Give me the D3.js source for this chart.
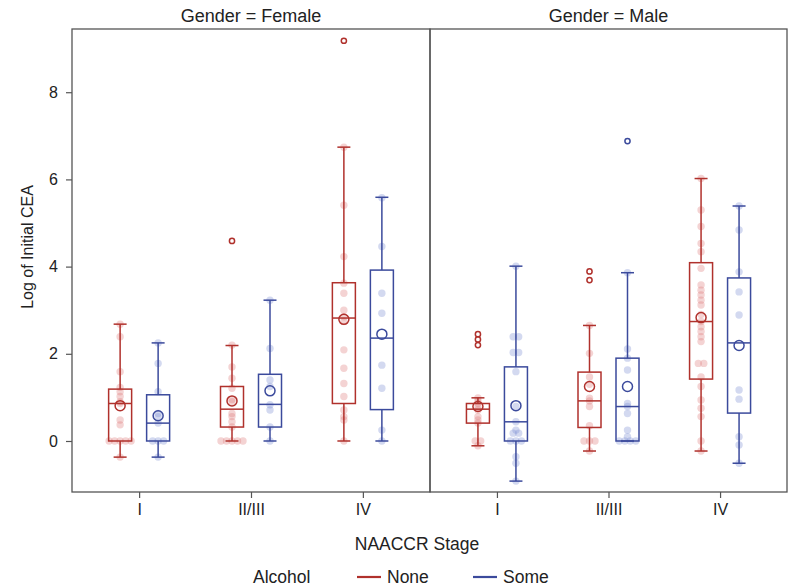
<!DOCTYPE html>
<html>
<head>
<meta charset="utf-8">
<script src="https://cdn.jsdelivr.net/npm/d3@7"></script>
<style>
  body { margin: 0; background: #fff; }
  text { font-family: "Liberation Sans", Arial, sans-serif; fill: #222; }
</style>
</head>
<body>
<svg id="chart" width="788" height="587"></svg>
<script>
// panels / categories
const panels = ['Female', 'Male'];
const stages = ['I', 'II/III', 'IV'];
const groups = ['None', 'Some'];
const yTicks = [0, 2, 4, 6, 8];

// box stats, order: Female I, II/III, IV, Male I, II/III, IV
const noneLow = [-0.37, 0, 0, -0.11, -0.23, -0.23];
const noneQ1 = [0, 0.32, 0.86, 0.41, 0.31, 1.42];
const noneMed = [0.86, 0.73, 2.82, 0.73, 0.92, 2.74];
const noneQ3 = [1.19, 1.25, 3.63, 0.86, 1.58, 4.09];
const noneHigh = [2.68, 2.19, 6.74, 0.99, 2.65, 6.02];
const noneMean = [0.81, 0.92, 2.79, 0.79, 1.25, 2.83];
const noneOutliers = [[], [4.59], [9.18], [2.45, 2.33, 2.2], [3.89, 3.69], []];

const someLow = [-0.37, 0, 0, -0.92, 0, -0.51];
const someQ1 = [0, 0.32, 0.72, 0, 0, 0.64];
const someMed = [0.41, 0.84, 2.36, 0.44, 0.79, 2.25];
const someQ3 = [1.06, 1.53, 3.92, 1.7, 1.9, 3.74];
const someHigh = [2.25, 3.23, 5.59, 4.01, 3.86, 5.39];
const someMean = [0.58, 1.15, 2.45, 0.81, 1.25, 2.19];
const someOutliers = [[], [], [], [], [6.88], []];

// individual observations (faded dots)
const nonePoints = [
  [2.68, 2.39, 1.59, 1.23, 1.13, 1.02, 0.9, 0.86, 0.48, 0.37, 0, 0, 0, 0, 0, -0.37],
  [2.2, 1.7, 1.44, 1.21, 0.95, 0.9, 0.63, 0.56, 0.44, 0.32, 0, 0, 0, 0, 0],
  [6.74, 5.41, 4.23, 3.62, 3.39, 3.0, 2.85, 2.74, 2.09, 1.67, 1.32, 1.02, 0.71, 0.56, 0.48, 0],
  [0.99, 0.92, 0.86, 0.78, 0.71, 0.56, 0.48, 0.41, 0, 0, -0.11],
  [2.65, 2.01, 1.47, 1.3, 0.98, 0.92, 0.79, 0.35, 0, 0, 0, -0.23],
  [6.02, 5.3, 4.92, 4.53, 4.34, 3.96, 3.58, 3.46, 3.35, 3.23, 3.12, 2.9, 2.74, 2.62, 2.51, 2.39, 2.28, 1.78, 1.78, 1.47, 1.25, 0.94, 0.75, 0.56, 0, -0.23]
];
const somePoints = [
  [2.25, 1.78, 1.13, 0.63, 0.56, 0.41, 0, 0, 0, -0.37],
  [3.23, 2.12, 1.4, 1.25, 0.83, 0.71, 0.32, 0],
  [5.58, 4.46, 3.39, 2.93, 1.74, 1.21, 0.25, 0],
  [4.01, 2.39, 2.39, 2.03, 2.03, 1.59, 0.79, 0.44, 0.25, 0.18, 0.18, 0, 0, 0, -0.36, -0.51, -0.92],
  [3.86, 2.11, 1.9, 1.63, 0.86, 0.79, 0.63, 0.25, 0.1, 0, 0, 0, 0],
  [5.39, 4.84, 3.88, 3.42, 2.89, 1.17, 0.96, 0.1, -0.09, -0.51]
];

const colors = { None: '#b0312c', Some: '#3b4a9c' };
const dotColors = { None: 'rgba(222,120,120,0.33)', Some: 'rgba(120,140,210,0.33)' };

const svg = d3.select('#chart');
const plotTop = 29, plotBottom = 492;
const panelX = [[72, 430], [430, 787]];
const frameColor = '#555';

const y = d3.scaleLinear().domain([-1.17, 9.45]).range([plotBottom, plotTop]);
const gx = d3.scalePoint().domain(groups).range([-19, 19]);

const stats = {
  None: { low: noneLow, q1: noneQ1, med: noneMed, q3: noneQ3, high: noneHigh, mean: noneMean, out: noneOutliers, pts: nonePoints },
  Some: { low: someLow, q1: someQ1, med: someMed, q3: someQ3, high: someHigh, mean: someMean, out: someOutliers, pts: somePoints }
};

const boxW = 23, capW = 13;

panels.forEach((panel, pi) => {
  const [x0, x1] = panelX[pi];
  const x = d3.scalePoint().domain(stages).range([x0, x1]).padding(0.6);
  const g = svg.append('g');

  // panel title
  svg.append('text')
    .attr('x', (x0 + x1) / 2).attr('y', 22)
    .attr('text-anchor', 'middle').style('font-size', '18px')
    .text(`Gender = ${panel}`);

  // x axis
  const xAxis = svg.append('g')
    .attr('transform', `translate(0,${plotBottom})`)
    .call(d3.axisBottom(x).tickSize(6).tickPadding(6));
  xAxis.select('.domain').remove();
  xAxis.selectAll('line').attr('stroke', frameColor).attr('stroke-width', 1.2);
  xAxis.selectAll('text').style('font-size', '16px').attr('fill', '#222');

  stages.forEach((stage, si) => {
    const idx = pi * 3 + si;
    groups.forEach((grp) => {
      const s = stats[grp];
      const cx = x(stage) + gx(grp);
      const col = colors[grp];

      // dots, duplicates spread side by side
      const counts = {};
      s.pts[idx].forEach((v) => { counts[v] = (counts[v] || 0) + 1; });
      const seen = {};
      g.selectAll(null)
        .data(s.pts[idx])
        .enter().append('circle')
        .attr('cx', (v) => {
          const k = seen[v] = (seen[v] || 0) + 1;
          return cx + (k - 1 - (counts[v] - 1) / 2) * 5.5;
        })
        .attr('cy', (v) => y(v))
        .attr('r', 3.7)
        .attr('fill', dotColors[grp]);

      // whiskers
      g.append('line').attr('x1', cx).attr('x2', cx)
        .attr('y1', y(s.q3[idx])).attr('y2', y(s.high[idx]))
        .attr('stroke', col).attr('stroke-width', 1.5);
      g.append('line').attr('x1', cx).attr('x2', cx)
        .attr('y1', y(s.q1[idx])).attr('y2', y(s.low[idx]))
        .attr('stroke', col).attr('stroke-width', 1.5);
      [s.high[idx], s.low[idx]].forEach((v) => {
        g.append('line').attr('x1', cx - capW / 2).attr('x2', cx + capW / 2)
          .attr('y1', y(v)).attr('y2', y(v))
          .attr('stroke', col).attr('stroke-width', 1.5);
      });

      // box
      g.append('rect')
        .attr('x', cx - boxW / 2).attr('width', boxW)
        .attr('y', y(s.q3[idx])).attr('height', y(s.q1[idx]) - y(s.q3[idx]))
        .attr('fill', 'none').attr('stroke', col).attr('stroke-width', 1.5);
      g.append('line').attr('x1', cx - boxW / 2).attr('x2', cx + boxW / 2)
        .attr('y1', y(s.med[idx])).attr('y2', y(s.med[idx]))
        .attr('stroke', col).attr('stroke-width', 1.5);

      // mean
      g.append('circle').attr('cx', cx).attr('cy', y(s.mean[idx])).attr('r', 5)
        .attr('fill', 'none').attr('stroke', col).attr('stroke-width', 1.5);

      // outliers
      g.selectAll(null).data(s.out[idx]).enter().append('circle')
        .attr('cx', cx).attr('cy', (v) => y(v)).attr('r', 2.6)
        .attr('fill', 'none').attr('stroke', col).attr('stroke-width', 1.5);
    });
  });

  // frame
  svg.append('rect')
    .attr('x', x0).attr('y', plotTop).attr('width', x1 - x0).attr('height', plotBottom - plotTop)
    .attr('fill', 'none').attr('stroke', frameColor).attr('stroke-width', 1.3);
});

// y axis
const yAxis = svg.append('g')
  .attr('transform', `translate(${panelX[0][0]},0)`)
  .call(d3.axisLeft(y).tickValues(yTicks).tickSize(6).tickPadding(8));
yAxis.select('.domain').remove();
yAxis.selectAll('line').attr('stroke', frameColor).attr('stroke-width', 1.2);
yAxis.selectAll('text').style('font-size', '16px').attr('fill', '#222');

svg.append('text')
  .attr('transform', 'translate(27,247) rotate(-90)')
  .attr('text-anchor', 'middle').attr('dy', '0.35em')
  .style('font-size', '16px')
  .text('Log of Initial CEA');

svg.append('text')
  .attr('x', 417).attr('y', 550)
  .attr('text-anchor', 'middle').style('font-size', '17.5px')
  .text('NAACCR Stage');

// legend
const legend = svg.append('g');
legend.append('text').attr('x', 253).attr('y', 583).style('font-size', '17.5px').text('Alcohol');
const legendX = { None: 357, Some: 473 };
groups.forEach((grp) => {
  const lx = legendX[grp];
  legend.append('line').attr('x1', lx).attr('x2', lx + 24)
    .attr('y1', 577).attr('y2', 577)
    .attr('stroke', colors[grp]).attr('stroke-width', 2.2);
  legend.append('text').attr('x', lx + 30).attr('y', 583)
    .style('font-size', '17.5px').text(grp);
});
</script>
</body>
</html>
